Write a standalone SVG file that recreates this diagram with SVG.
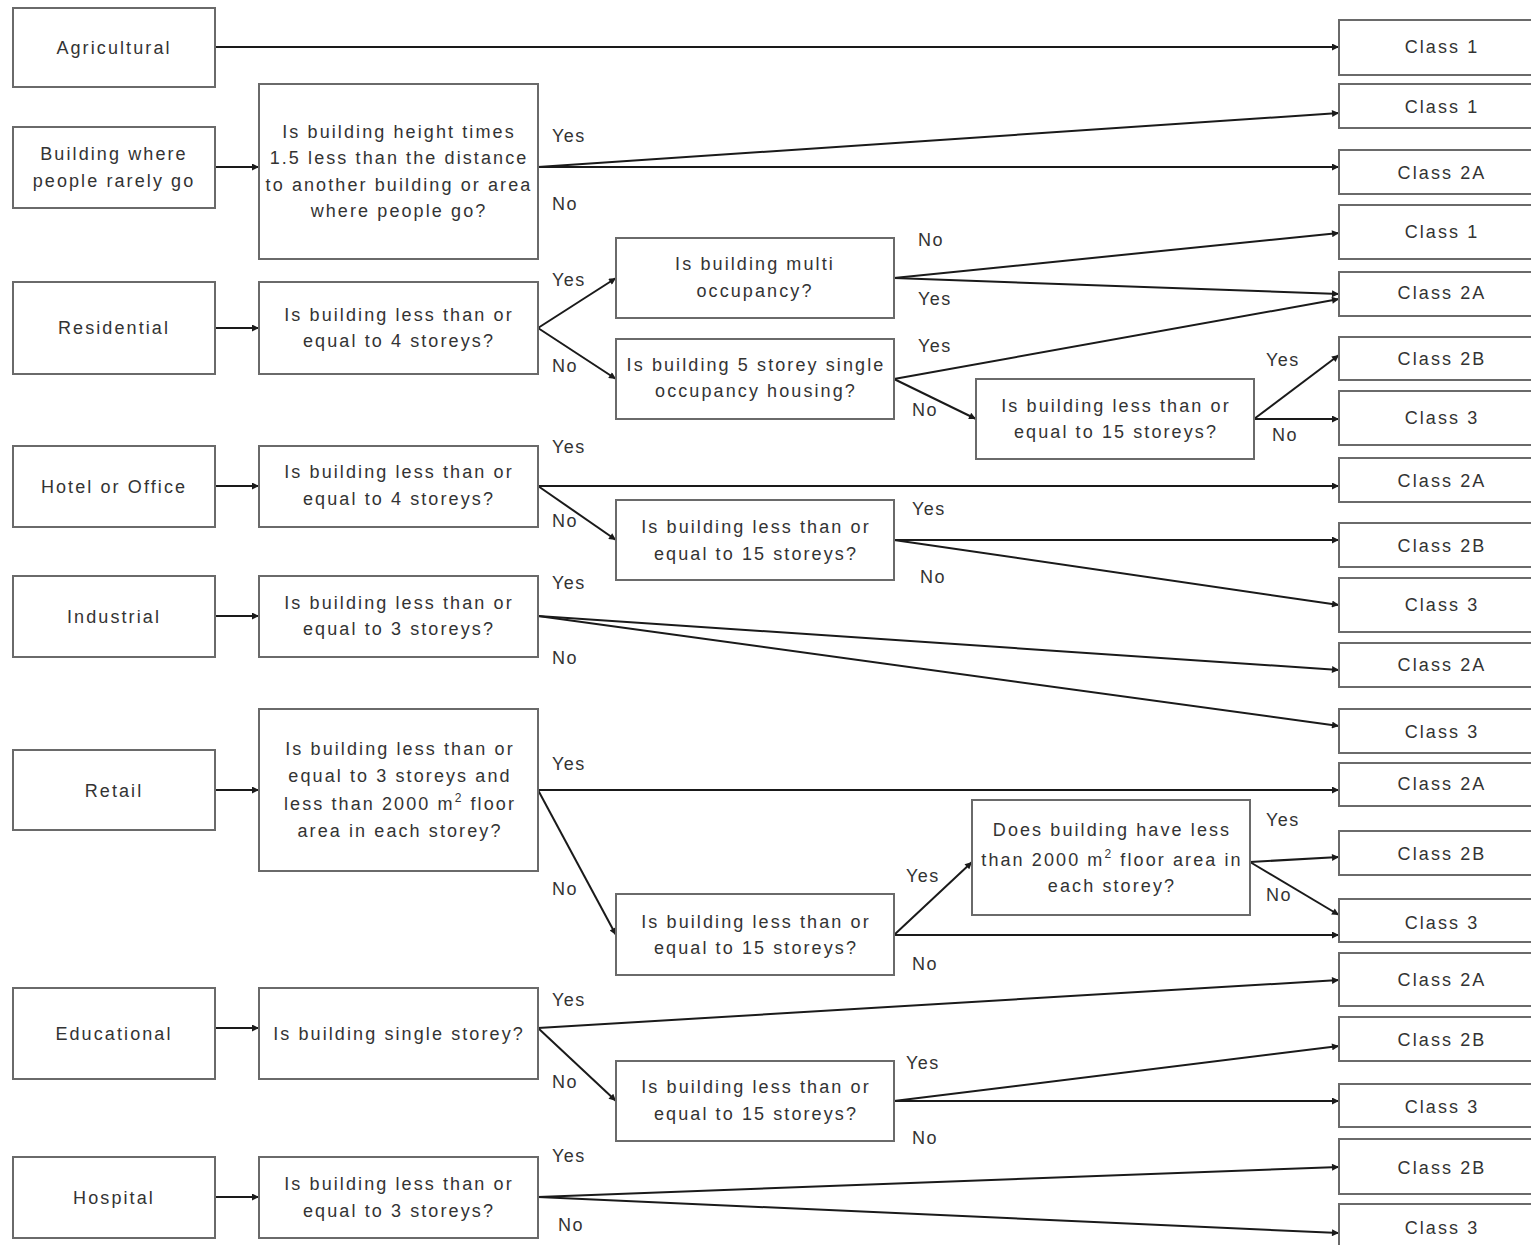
<svg xmlns="http://www.w3.org/2000/svg" width="1531" height="1245" viewBox="0 0 1531 1245">
<defs>
<marker id="ah" viewBox="0 0 10 10" refX="10" refY="5" markerWidth="9" markerHeight="7" markerUnits="userSpaceOnUse" orient="auto">
<path d="M0,0 L10,5 L0,10 z" fill="#1a1a1a"/>
</marker>
<style>
.b{fill:#fff;stroke:#6a6a6a;stroke-width:2}
.t{font-family:"Liberation Sans",Arial,sans-serif;font-size:18px;letter-spacing:2.1px;fill:#333;text-anchor:middle}
.l{font-family:"Liberation Sans",Arial,sans-serif;font-size:18px;letter-spacing:1.5px;fill:#333}
.c line{stroke:#1a1a1a;stroke-width:2;marker-end:url(#ah)}
</style>
</defs>
<rect width="1531" height="1245" fill="#fff"/>

<g id="connectors" class="c">
<line x1="215" y1="47" x2="1339" y2="47"/>
<line x1="215" y1="167" x2="259" y2="167"/>
<line x1="538" y1="167" x2="1339" y2="113"/>
<line x1="538" y1="167" x2="1339" y2="167"/>
<line x1="215" y1="328" x2="259" y2="328"/>
<line x1="538" y1="328" x2="616" y2="278"/>
<line x1="538" y1="328" x2="616" y2="379"/>
<line x1="894" y1="278" x2="1339" y2="233"/>
<line x1="894" y1="278" x2="1339" y2="294"/>
<line x1="894" y1="379" x2="1339" y2="299"/>
<line x1="894" y1="379" x2="976" y2="419"/>
<line x1="1254" y1="419" x2="1339" y2="355"/>
<line x1="1254" y1="419" x2="1339" y2="419"/>
<line x1="215" y1="486" x2="259" y2="486"/>
<line x1="538" y1="486" x2="1339" y2="486"/>
<line x1="538" y1="486" x2="616" y2="540"/>
<line x1="894" y1="540" x2="1339" y2="540"/>
<line x1="894" y1="540" x2="1339" y2="605"/>
<line x1="215" y1="616" x2="259" y2="616"/>
<line x1="538" y1="616" x2="1339" y2="670"/>
<line x1="538" y1="616" x2="1339" y2="726"/>
<line x1="215" y1="790" x2="259" y2="790"/>
<line x1="538" y1="790" x2="1339" y2="790"/>
<line x1="538" y1="790" x2="616" y2="935"/>
<line x1="894" y1="935" x2="972" y2="862"/>
<line x1="894" y1="935" x2="1339" y2="935"/>
<line x1="1250" y1="862" x2="1339" y2="857"/>
<line x1="1250" y1="862" x2="1339" y2="915"/>
<line x1="215" y1="1028" x2="259" y2="1028"/>
<line x1="538" y1="1028" x2="1339" y2="980"/>
<line x1="538" y1="1028" x2="616" y2="1101"/>
<line x1="894" y1="1101" x2="1339" y2="1046"/>
<line x1="894" y1="1101" x2="1339" y2="1101"/>
<line x1="215" y1="1197" x2="259" y2="1197"/>
<line x1="538" y1="1197" x2="1339" y2="1167"/>
<line x1="538" y1="1197" x2="1339" y2="1233"/>
</g>

<g id="edge-labels">
<text class="l" x="552" y="142">Yes</text>
<text class="l" x="552" y="210">No</text>
<text class="l" x="552" y="286">Yes</text>
<text class="l" x="552" y="372">No</text>
<text class="l" x="918" y="246">No</text>
<text class="l" x="918" y="305">Yes</text>
<text class="l" x="918" y="352">Yes</text>
<text class="l" x="912" y="416">No</text>
<text class="l" x="1266" y="366">Yes</text>
<text class="l" x="1272" y="441">No</text>
<text class="l" x="552" y="453">Yes</text>
<text class="l" x="552" y="527">No</text>
<text class="l" x="912" y="515">Yes</text>
<text class="l" x="920" y="583">No</text>
<text class="l" x="552" y="589">Yes</text>
<text class="l" x="552" y="664">No</text>
<text class="l" x="552" y="770">Yes</text>
<text class="l" x="552" y="895">No</text>
<text class="l" x="906" y="882">Yes</text>
<text class="l" x="912" y="970">No</text>
<text class="l" x="1266" y="826">Yes</text>
<text class="l" x="1266" y="901">No</text>
<text class="l" x="552" y="1006">Yes</text>
<text class="l" x="552" y="1088">No</text>
<text class="l" x="906" y="1069">Yes</text>
<text class="l" x="912" y="1144">No</text>
<text class="l" x="552" y="1162">Yes</text>
<text class="l" x="558" y="1231">No</text>
</g>

<g id="n-agricultural"><rect class="b" x="13" y="8" width="202" height="79"/><text class="t" x="114" y="54">Agricultural</text></g>
<g id="n-rarely"><rect class="b" x="13" y="127" width="202" height="81"/><text class="t" x="114" y="160">Building where</text><text class="t" x="114" y="187">people rarely go</text></g>
<g id="n-residential"><rect class="b" x="13" y="282" width="202" height="92"/><text class="t" x="114" y="334">Residential</text></g>
<g id="n-hotel"><rect class="b" x="13" y="446" width="202" height="81"/><text class="t" x="114" y="493">Hotel or Office</text></g>
<g id="n-industrial"><rect class="b" x="13" y="576" width="202" height="81"/><text class="t" x="114" y="623">Industrial</text></g>
<g id="n-retail"><rect class="b" x="13" y="750" width="202" height="80"/><text class="t" x="114" y="797">Retail</text></g>
<g id="n-educational"><rect class="b" x="13" y="988" width="202" height="91"/><text class="t" x="114" y="1040">Educational</text></g>
<g id="n-hospital"><rect class="b" x="13" y="1157" width="202" height="81"/><text class="t" x="114" y="1204">Hospital</text></g>

<g id="q-distance"><rect class="b" x="259" y="84" width="279" height="175"/>
<text class="t" x="399" y="138">Is building height times</text>
<text class="t" x="399" y="164">1.5 less than the distance</text>
<text class="t" x="399" y="191">to another building or area</text>
<text class="t" x="399" y="217">where people go?</text></g>
<g id="q-res4"><rect class="b" x="259" y="282" width="279" height="92"/><text class="t" x="399" y="321">Is building less than or</text><text class="t" x="399" y="347">equal to 4 storeys?</text></g>
<g id="q-hotel4"><rect class="b" x="259" y="446" width="279" height="81"/><text class="t" x="399" y="478">Is building less than or</text><text class="t" x="399" y="505">equal to 4 storeys?</text></g>
<g id="q-ind3"><rect class="b" x="259" y="576" width="279" height="81"/><text class="t" x="399" y="609">Is building less than or</text><text class="t" x="399" y="635">equal to 3 storeys?</text></g>
<g id="q-retail3"><rect class="b" x="259" y="709" width="279" height="162"/>
<text class="t" x="400" y="755">Is building less than or</text>
<text class="t" x="400" y="782">equal to 3 storeys and</text>
<text class="t" x="400" y="810">less than 2000 m<tspan font-size="12" dy="-8">2</tspan><tspan dy="8"> floor</tspan></text>
<text class="t" x="400" y="837">area in each storey?</text></g>
<g id="q-edu1"><rect class="b" x="259" y="988" width="279" height="91"/><text class="t" x="399" y="1040">Is building single storey?</text></g>
<g id="q-hosp3"><rect class="b" x="259" y="1157" width="279" height="81"/><text class="t" x="399" y="1190">Is building less than or</text><text class="t" x="399" y="1217">equal to 3 storeys?</text></g>

<g id="q-multi"><rect class="b" x="616" y="238" width="278" height="80"/><text class="t" x="755" y="270">Is building multi</text><text class="t" x="755" y="297">occupancy?</text></g>
<g id="q-5storey"><rect class="b" x="616" y="339" width="278" height="80"/><text class="t" x="756" y="371">Is building 5 storey single</text><text class="t" x="756" y="397">occupancy housing?</text></g>
<g id="q-hotel15"><rect class="b" x="616" y="500" width="278" height="80"/><text class="t" x="756" y="533">Is building less than or</text><text class="t" x="756" y="560">equal to 15 storeys?</text></g>
<g id="q-retail15"><rect class="b" x="616" y="894" width="278" height="81"/><text class="t" x="756" y="928">Is building less than or</text><text class="t" x="756" y="954">equal to 15 storeys?</text></g>
<g id="q-edu15"><rect class="b" x="616" y="1061" width="278" height="80"/><text class="t" x="756" y="1093">Is building less than or</text><text class="t" x="756" y="1120">equal to 15 storeys?</text></g>
<g id="q-res15"><rect class="b" x="976" y="379" width="278" height="80"/><text class="t" x="1116" y="412">Is building less than or</text><text class="t" x="1116" y="438">equal to 15 storeys?</text></g>
<g id="q-area"><rect class="b" x="972" y="800" width="278" height="115"/>
<text class="t" x="1112" y="836">Does building have less</text>
<text class="t" x="1112" y="866">than 2000 m<tspan font-size="12" dy="-8">2</tspan><tspan dy="8"> floor area in</tspan></text>
<text class="t" x="1112" y="892">each storey?</text></g>

<g id="c01"><rect class="b" x="1339" y="20" width="210" height="55"/><text class="t" x="1442" y="53">Class 1</text></g>
<g id="c02"><rect class="b" x="1339" y="84" width="210" height="44"/><text class="t" x="1442" y="113">Class 1</text></g>
<g id="c03"><rect class="b" x="1339" y="150" width="210" height="44"/><text class="t" x="1442" y="179">Class 2A</text></g>
<g id="c04"><rect class="b" x="1339" y="205" width="210" height="54"/><text class="t" x="1442" y="238">Class 1</text></g>
<g id="c05"><rect class="b" x="1339" y="272" width="210" height="44"/><text class="t" x="1442" y="299">Class 2A</text></g>
<g id="c06"><rect class="b" x="1339" y="337" width="210" height="43"/><text class="t" x="1442" y="365">Class 2B</text></g>
<g id="c07"><rect class="b" x="1339" y="391" width="210" height="54"/><text class="t" x="1442" y="424">Class 3</text></g>
<g id="c08"><rect class="b" x="1339" y="458" width="210" height="44"/><text class="t" x="1442" y="487">Class 2A</text></g>
<g id="c09"><rect class="b" x="1339" y="523" width="210" height="44"/><text class="t" x="1442" y="552">Class 2B</text></g>
<g id="c10"><rect class="b" x="1339" y="578" width="210" height="54"/><text class="t" x="1442" y="611">Class 3</text></g>
<g id="c11"><rect class="b" x="1339" y="643" width="210" height="44"/><text class="t" x="1442" y="671">Class 2A</text></g>
<g id="c12"><rect class="b" x="1339" y="709" width="210" height="44"/><text class="t" x="1442" y="738">Class 3</text></g>
<g id="c13"><rect class="b" x="1339" y="763" width="210" height="43"/><text class="t" x="1442" y="790">Class 2A</text></g>
<g id="c14"><rect class="b" x="1339" y="831" width="210" height="44"/><text class="t" x="1442" y="860">Class 2B</text></g>
<g id="c15"><rect class="b" x="1339" y="899" width="210" height="43"/><text class="t" x="1442" y="929">Class 3</text></g>
<g id="c16"><rect class="b" x="1339" y="953" width="210" height="53"/><text class="t" x="1442" y="986">Class 2A</text></g>
<g id="c17"><rect class="b" x="1339" y="1017" width="210" height="44"/><text class="t" x="1442" y="1046">Class 2B</text></g>
<g id="c18"><rect class="b" x="1339" y="1084" width="210" height="43"/><text class="t" x="1442" y="1113">Class 3</text></g>
<g id="c19"><rect class="b" x="1339" y="1139" width="210" height="55"/><text class="t" x="1442" y="1174">Class 2B</text></g>
<g id="c20"><rect class="b" x="1339" y="1204" width="210" height="55"/><text class="t" x="1442" y="1234">Class 3</text></g>
</svg>
